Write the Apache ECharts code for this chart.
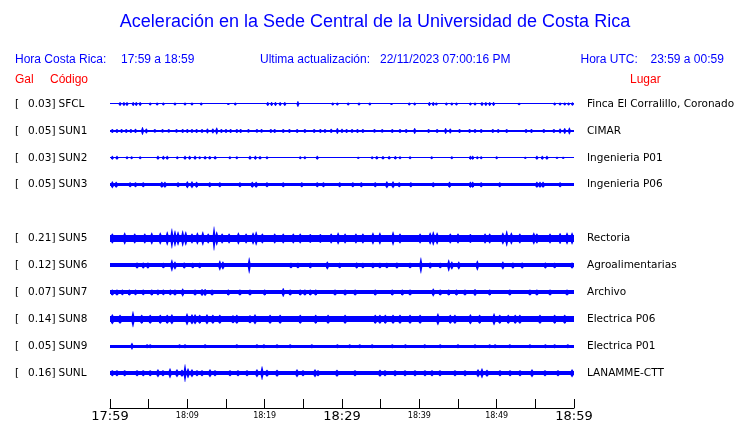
<!DOCTYPE html>
<html>
<head>
<meta charset="utf-8">
<script src="https://cdn.jsdelivr.net/npm/echarts@6/dist/echarts.min.js"></script>
<style>
html,body{margin:0;padding:0;background:#fff;}
#chart{width:740px;height:423px;}
</style>
</head>
<body>
<div id="chart"></div>
<script>
// ---- data ----
const codes  = ['SFCL','SUN1','SUN2','SUN3','SUN4','SUN5','SUN6','SUN7','SUN8','SUN9','SUNL'];
const gal    = ['0.03','0.05','0.03','0.05',null,'0.21','0.12','0.07','0.14','0.05','0.16'];
const places = ['Finca El Corralillo, Coronado','CIMAR','Ingenieria P01','Ingenieria P06',null,
                'Rectoria','Agroalimentarias','Archivo','Electrica P06','Electrica P01','LANAMME-CTT'];
// background noise half-amplitude per station (display units)
const baseAmp = [0.5, 1, 0.5, 1.6, null, 3.3, 1.9, 1.9, 3.2, 1.3, 2.2];
// bursts: [minute after 17:59, half-amplitude]
const evSFCL = [[1.3,2],[1.8,2],[2.2,2],[3.0,2],[3.4,2],[3.9,2],[5.2,1.5],[6.1,1.5],[6.9,1.5],[8.4,1.5],[9.7,1.5],[10.6,1.5],[11.8,1.5],[15.3,1],[16.2,1.5],[20.4,2],[20.9,2],[21.4,2],[22.0,2],[22.6,2],[24.3,3],[28.8,1.5],[29.4,1.5],[30.8,1.5],[32.2,1.5],[33.6,1.5],[36.4,1],[38.7,1.5],[39.4,1.5],[41.3,2],[41.8,2],[42.2,1.5],[43.5,1.5],[44.2,1.5],[44.8,1.5],[46.6,1.5],[47.2,1.5],[48.1,2],[48.6,2],[49.1,2],[49.6,2],[52.9,1.2],[57.5,1.5],[58.2,1.5],[58.8,1.5],[59.3,1.5],[59.8,1.8]];
const evSUN1 = [[0.3,2],[0.9,2],[1.5,2],[2.1,2],[2.7,2],[3.3,2.2],[4.2,4],[4.7,2.5],[5.8,1.8],[6.8,1.8],[7.6,1.8],[8.6,1.8],[9.4,2],[10.0,2],[10.6,2],[11.2,2],[11.9,2],[12.6,2.5],[13.3,2.5],[13.8,3.5],[14.4,2],[15.0,2],[15.6,2],[16.4,2],[16.9,2],[17.9,1.8],[19.0,1.8],[19.6,1.8],[20.8,2],[21.3,2],[22.4,2],[23.2,2],[24.2,2],[25.2,2],[26.4,2],[27.2,2],[27.8,2],[28.6,2.2],[29.4,3],[30.0,2.2],[30.6,2],[31.3,2],[32.0,2],[32.7,2],[34.2,1.8],[35.2,1.8],[36.5,2],[37.5,2],[38.3,2],[39.4,3],[41.2,2],[42.3,2],[43.4,3],[44.0,2.5],[45.2,2],[46.5,2],[47.2,2],[48.0,2],[49.5,2],[50.2,2],[51.3,2],[53.8,2],[54.5,2],[56.1,2],[57.4,2],[58.2,2.5],[58.8,3],[59.4,3.5]];
const evSUN2 = [[0.3,2],[0.9,2],[2.2,1.5],[2.8,1.5],[3.9,1.5],[6.2,2],[6.9,2],[7.4,2],[8.7,1.5],[9.7,2],[10.3,2],[11.0,2],[11.6,1.5],[12.3,1.8],[12.9,1.8],[13.6,1.8],[15.5,1.5],[16.4,1.5],[18.1,2],[18.8,2],[19.4,1.8],[20.3,1.5],[24.6,1.5],[25.2,1.5],[26.8,2],[32.1,1.2],[33.9,1.5],[34.5,1.8],[35.3,1.8],[36.1,1.8],[36.9,1.8],[37.5,1.5],[38.8,1.5],[41.6,1.5],[44.2,1.5],[46.6,2],[46.9,2],[47.5,1.5],[48.0,1.5],[50.0,1.5],[53.7,1.2],[55.2,2],[55.9,2],[56.5,2],[57.8,1.2],[58.6,1.2]];
const evSUN3 = [[0.3,3.5],[0.8,3],[2.6,2.5],[3.3,2.5],[4.3,2.5],[6.7,3],[7.1,3],[8.8,2.5],[10.0,3.5],[10.6,3.5],[11.2,3],[12.9,2.5],[14.2,2.5],[16.8,2.5],[18.4,3],[18.9,3],[20.3,2.5],[22.4,2.5],[24.8,2.5],[26.8,2.5],[27.6,2.5],[29.7,2.5],[31.4,2.5],[32.5,2.5],[34.3,2.5],[35.8,3.5],[36.6,3.5],[37.4,2.5],[38.9,2.5],[41.8,2.5],[43.9,3],[46.6,3],[46.9,3],[48.0,2.5],[50.4,2.5],[55.2,3],[55.6,3],[56.0,3],[58.2,2.5]];
const evSUN5 = [[0.3,5],[1.9,6],[3.2,5],[4.5,5],[5.4,6],[6.5,6],[7.4,7],[8.0,10],[8.4,8],[8.8,7],[9.4,8],[9.8,7],[10.6,5],[11.3,6],[12.0,7],[12.7,5],[13.45,12],[13.8,7],[14.5,5],[15.4,5],[16.6,6],[17.6,5],[18.5,6],[18.9,7],[19.7,5],[21.3,5],[22.4,5],[23.7,5],[24.6,5],[25.9,4.5],[27.2,4.5],[28.6,5],[29.5,6],[30.4,5],[31.8,5],[32.7,5],[34.0,6],[34.9,6],[36.6,7],[37.5,5],[40.1,5],[41.4,6],[41.8,7],[42.3,6],[44.0,5],[45.0,5],[46.6,4.5],[48.5,5],[49.1,5],[50.8,6],[51.3,8],[51.9,6],[53.0,5],[54.8,6],[55.2,5],[56.9,5],[58.2,5.5],[59.1,6],[59.75,6]];
const evSUN6 = [[3.5,3],[4.3,3],[4.9,3],[6.9,2.8],[8.0,6],[8.4,4],[9.6,3],[10.7,2.8],[11.6,2.8],[14.2,5],[14.6,4],[18.0,8],[23.4,2.8],[24.3,2.8],[25.9,2.8],[28.1,4],[29.7,2.8],[31.9,3],[32.7,2.8],[34.0,2.8],[34.9,2.8],[35.8,2.8],[37.1,3],[38.8,2.8],[40.2,8],[41.4,3],[42.7,2.8],[43.8,6],[44.2,4],[45.1,4],[47.5,5],[50.8,4],[52.1,3],[53.3,3],[56.3,3],[57.5,2.8],[59.75,3]];
const evSUN7 = [[0.3,3],[0.9,3],[1.6,2.8],[2.5,3],[3.3,2.8],[4.3,2.8],[5.4,3],[6.2,2.8],[6.9,2.8],[7.8,2.8],[8.4,3],[9.4,4],[11.0,3],[11.9,3.5],[12.3,3.5],[13.2,3],[15.3,3],[16.8,3],[18.1,3],[20.0,3],[22.4,4.5],[23.3,3],[24.6,3],[25.2,3],[25.9,3],[26.6,3],[29.1,3],[30.4,3],[31.7,3],[34.3,3],[36.5,3],[37.8,3],[38.8,3],[41.8,4],[42.7,3],[43.8,3],[44.8,3],[45.9,3],[47.2,3.5],[49.1,3],[51.7,3],[54.3,3],[55.2,3],[56.9,3],[59.1,3]];
const evSUN8 = [[0.3,5],[1.3,4.5],[2.97,8],[4.1,4.5],[5.2,4.5],[6.5,4.5],[7.4,4.5],[8.0,5],[9.96,6],[10.6,5],[11.0,5],[11.6,4.5],[12.54,5],[13.3,4.5],[14.2,4.5],[15.9,4],[16.4,4.5],[18.1,4],[18.75,5],[20.7,4.5],[22.0,4.5],[24.6,4.5],[26.6,4.5],[28.2,4.5],[30.4,4.5],[34.3,4.5],[34.9,4.5],[35.6,4.5],[36.6,4.5],[37.5,4.5],[38.8,4.5],[40.1,4.5],[42.4,6],[44.0,4.5],[44.6,4.5],[46.6,5],[47.8,4.5],[49.66,6],[50.4,4.5],[51.5,4.5],[52.4,4.5],[53.0,4.5],[55.6,4.5],[57.5,4.5],[58.8,4.5]];
const evSUN9 = [[2.84,3.5],[4.8,2],[5.2,2],[9.0,2],[9.7,2],[12.3,2],[16.4,2],[19.0,2],[19.9,2],[21.6,2],[23.3,2],[26.1,2],[29.4,2],[31.0,2],[32.3,2],[33.9,2],[36.5,2],[38.2,2],[40.7,2],[42.7,2],[45.0,2],[47.2,2],[49.1,2],[49.8,2],[51.7,2],[54.3,2],[56.3,2],[57.5,2],[59.2,2]];
const evSUNL = [[0.3,3],[0.9,3],[1.9,3],[3.5,3],[4.3,3],[5.2,3],[6.2,4],[6.85,3],[7.76,5],[8.66,4],[9.31,3.5],[9.7,9],[10.09,5],[10.6,4],[11.25,3],[11.9,3],[12.93,4],[13.58,3],[15.52,3],[16.55,3],[17.72,3],[19.0,4],[19.66,7],[20.3,3.5],[21.6,3.5],[24.18,4],[24.96,3],[26.51,4],[26.9,3],[29.35,3.5],[31.68,3],[34.91,3.5],[35.56,3],[36.86,3],[38.15,3],[39.44,3],[40.73,3],[41.64,3],[42.67,3],[44.61,3],[45.91,3],[47.59,4],[48.1,5],[48.75,3.5],[50.43,3],[51.73,3],[53.02,3],[54.57,4],[56.25,3],[57.93,3],[59.75,4]];
const events = [evSFCL, evSUN1, evSUN2, evSUN3, null, evSUN5, evSUN6, evSUN7, evSUN8, evSUN9, evSUNL];
const tickLabels = ['17:59','','18:09','','18:19','','18:29','','18:39','','18:49','','18:59'];
const bigLabels = ['17:59','18:29','18:59'];
const spanMinutes = 60;

// ---- chart ----
const BLUE = '#0000ff';
const gain = 1 / 27; // display units -> row units
const chart = echarts.init(document.getElementById('chart'), null, {renderer: 'canvas'});

function renderItem(params, api) {
  const i = api.value(0);
  const b = baseAmp[i] * gain;
  const children = [];
  const pL = api.coord([0, i]);
  const pR = api.coord([spanMinutes, i]);
  const yc = pL[1];
  const bh = Math.max(1, Math.round(api.coord([0, i + b])[1] - api.coord([0, i - b])[1]));
  children.push({type: 'rect', shape: {x: pL[0], y: Math.round(yc - bh / 2), width: pR[0] - pL[0], height: bh},
    style: {fill: BLUE}});
  const w = 0.17, tw = 0.03;
  (events[i] || []).forEach(function (e) {
    const t = e[0], a = e[1] * gain;
    const pts = [
      api.coord([t - w, i - b]), api.coord([t - tw, i - a]), api.coord([t + tw, i - a]), api.coord([t + w, i - b]),
      api.coord([t + w, i + b]), api.coord([t + tw, i + a]), api.coord([t - tw, i + a]), api.coord([t - w, i + b])
    ];
    children.push({type: 'polygon', shape: {points: pts}, style: {fill: BLUE}});
  });
  const f = '10.5px "DejaVu Sans"';
  children.push({type: 'text', style: {text: '[', x: pL[0] - 95, y: yc, fill: '#000', font: f, align: 'left', verticalAlign: 'middle'}});
  children.push({type: 'text', style: {text: gal[i] + ']', x: pL[0] - 54.5, y: yc, fill: '#000', font: f, align: 'right', verticalAlign: 'middle'}});
  children.push({type: 'text', style: {text: codes[i], x: pL[0] - 51.5, y: yc, fill: '#000', font: f, align: 'left', verticalAlign: 'middle'}});
  children.push({type: 'text', style: {text: places[i], x: pR[0] + 13, y: yc, fill: '#000', font: f, align: 'left', verticalAlign: 'middle'}});
  return {type: 'group', children: children};
}

const seriesData = [];
codes.forEach(function (c, i) { if (baseAmp[i] !== null) seriesData.push([i]); });

const hdr = '12px "Liberation Sans"';
function txt(text, x, y, color, font, align) {
  return {type: 'text', x: x, y: y, style: {text: text, fill: color, font: font, align: align || 'left', verticalAlign: 'middle'}};
}

chart.setOption({
  animation: false,
  backgroundColor: '#fff',
  grid: {left: 110, right: 166, top: 90, bottom: 14},
  xAxis: {
    type: 'value', min: 0, max: spanMinutes, interval: 5, position: 'bottom',
    splitLine: {show: false},
    axisLine: {show: true, onZero: false, lineStyle: {color: '#000', width: 1}},
    axisTick: {show: true, inside: true, length: 9, lineStyle: {color: '#000'}},
    axisLabel: {
      margin: 1, color: '#000', fontFamily: 'DejaVu Sans',
      formatter: function (v) {
        const s = tickLabels[Math.round(v / 5)] || '';
        if (!s) return '';
        return bigLabels.indexOf(s) >= 0 ? '{big|' + s + '}' : '{small|' + s + '}';
      },
      rich: {
        big: {fontSize: 13, lineHeight: 15, fontFamily: 'DejaVu Sans', color: '#000'},
        small: {fontSize: 8, lineHeight: 13, fontFamily: 'DejaVu Sans', color: '#000'}
      }
    }
  },
  yAxis: {type: 'value', inverse: true, min: -0.52, max: 11.295, show: false},
  series: [{
    type: 'custom', clip: false, renderItem: renderItem,
    encode: {x: -1, y: 0}, data: seriesData
  }],
  graphic: [
    txt('Aceleración en la Sede Central de la Universidad de Costa Rica', 375, 22, BLUE, '18px "Liberation Sans"', 'center'),
    txt('Hora Costa Rica:', 15, 60, BLUE, hdr),
    txt('17:59 a 18:59', 121, 60, BLUE, hdr),
    txt('Ultima actualización:', 260, 60, BLUE, hdr),
    txt('22/11/2023 07:00:16 PM', 380, 60, BLUE, hdr),
    txt('Hora UTC:', 580.5, 60, BLUE, hdr),
    txt('23:59 a 00:59', 650.5, 60, BLUE, hdr),
    txt('Gal', 15, 80, '#ff0000', hdr),
    txt('Código', 50, 80, '#ff0000', hdr),
    txt('Lugar', 630, 80, '#ff0000', hdr)
  ]
});
</script>
</body>
</html>
